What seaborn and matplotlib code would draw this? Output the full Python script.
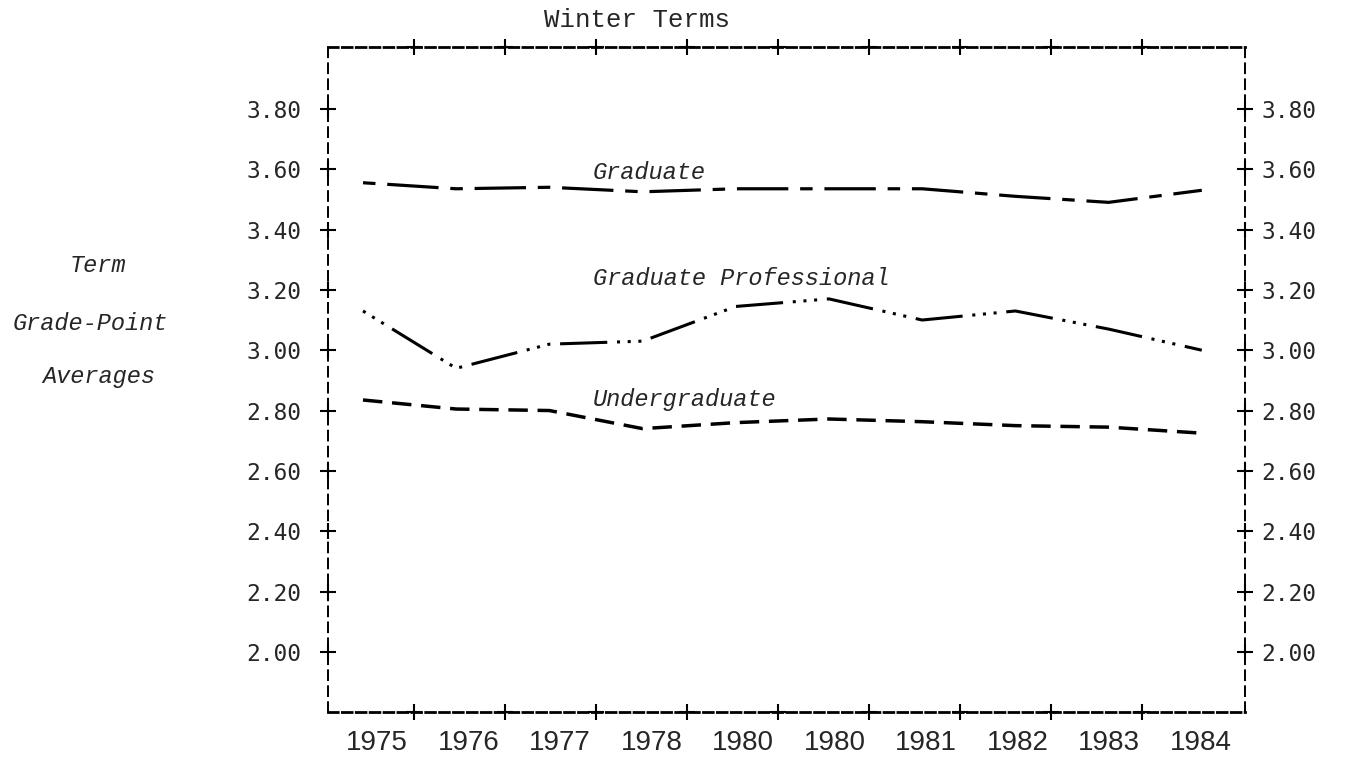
import matplotlib
matplotlib.use('Agg')
import matplotlib.pyplot as plt
from matplotlib import font_manager
import numpy as np
import pandas as pd
import seaborn as sns

# data
years = ['1975', '1976', '1977', '1978', '1980', '1980', '1981', '1982', '1983', '1984']
graduate = [3.555, 3.535, 3.54, 3.525, 3.535, 3.535, 3.535, 3.51, 3.49, 3.53]
grad_prof = [3.13, 2.94, 3.02, 3.03, 3.145, 3.17, 3.10, 3.13, 3.07, 3.00]
undergrad = [2.835, 2.805, 2.80, 2.74, 2.76, 2.772, 2.763, 2.75, 2.745, 2.725]
series_names = ['Graduate', 'Graduate Professional', 'Undergraduate']
yticks = [2.00, 2.20, 2.40, 2.60, 2.80, 3.00, 3.20, 3.40, 3.60, 3.80]

df = pd.DataFrame({'idx': np.arange(len(years)),
                   'Graduate': graduate,
                   'Graduate Professional': grad_prof,
                   'Undergraduate': undergrad})
df = df.melt(id_vars='idx', var_name='group', value_name='gpa')

sns.set_style('white')
plt.rcParams['lines.scale_dashes'] = False

installed = {f.name for f in font_manager.fontManager.ttflist}
mono = 'Liberation Mono' if 'Liberation Mono' in installed else 'DejaVu Sans Mono'
num_font = 'DejaVu Sans Mono'
year_font = 'Liberation Sans Narrow' if 'Liberation Sans Narrow' in installed else 'Liberation Sans'

fig = plt.figure(figsize=(13.47, 7.6), dpi=100)
ax = fig.add_axes([0.2435, 0.0632, 0.6808, 0.875])

# dash patterns in points
styles = {
    'Graduate': dict(lw=2.3, ls=(0, (9, 8.5, 37, 8.5))),
    'Graduate Professional': dict(lw=2.2, ls=(0, (2.2, 5.5, 2.2, 5.5, 2.2, 7, 34, 7))),
    'Undergraduate': dict(lw=2.5, ls=(0, (14, 7))),
}
for name in series_names:
    sub = df[df['group'] == name]
    sns.lineplot(data=sub, x='idx', y='gpa', ax=ax, color='black',
                 linewidth=styles[name]['lw'], linestyle=styles[name]['ls'],
                 dash_capstyle='butt', sort=False)

xlo, xhi = -0.3755, 9.464
ax.set_xlim(xlo, xhi)
ax.set_ylim(1.801, 4.005)

# series labels
lab_font = dict(family=mono, style='italic', fontsize=17)
ax.text(2.468, 3.588, 'Graduate', ha='left', va='center', **lab_font)
ax.text(2.468, 3.236, 'Graduate Professional', ha='left', va='center', **lab_font)
ax.text(2.468, 2.835, 'Undergraduate', ha='left', va='center', **lab_font)

# y ticks, left side
ax.set_yticks(yticks)
ax.set_yticklabels(['%.2f' % v for v in yticks], family=num_font, fontsize=16.5)
ax.tick_params(axis='y', length=0, pad=19, labelleft=True, labelright=False)

# year labels along the bottom, plus marks between them
span = xhi - xlo
lab_pos = [xlo + (0.0534 + 0.0998 * k) * span for k in range(len(years))]
plus_pos = [xlo + (0.0938 + 0.0992 * k) * span for k in range(len(years) - 1)]
ax.set_xticks(lab_pos)
ax.set_xticklabels(years, family=year_font, fontsize=20)
ax.tick_params(axis='x', length=0, pad=13)
ax.set_xlabel('')
ax.set_ylabel('')

# right-side labels
sec = ax.secondary_yaxis('right')
sec.set_yticks(yticks)
sec.set_yticklabels(['%.2f' % v for v in yticks], family=num_font, fontsize=16.5)
sec.tick_params(length=0, pad=12)
sec.spines['right'].set_visible(False)

# plus signs on the frame
pk = dict(marker='+', ms=11, mew=1.5, ls='none', color='black', clip_on=False)
ax.plot(np.zeros(len(yticks)), yticks, transform=ax.get_yaxis_transform(), **pk)
ax.plot(np.ones(len(yticks)), yticks, transform=ax.get_yaxis_transform(), **pk)
ax.plot(plus_pos, np.zeros(len(plus_pos)), transform=ax.get_xaxis_transform(), **pk)
ax.plot(plus_pos, np.ones(len(plus_pos)), transform=ax.get_xaxis_transform(), **pk)

# dashed typewriter frame
for side in ['left', 'right']:
    ax.spines[side].set_linestyle((0, (7, 4.5)))
    ax.spines[side].set_linewidth(1.4)
for side in ['top', 'bottom']:
    ax.spines[side].set_linestyle((0, (7, 3)))
    ax.spines[side].set_linewidth(2)
for s in ax.spines.values():
    s.set_color('black')
    s.set_visible(True)

fig.text(0.473, 0.974, 'Winter Terms', ha='center', va='center', family=mono, fontsize=18.5)
fig.text(0.073, 0.651, 'Term', ha='center', va='center', **lab_font)
fig.text(0.067, 0.575, 'Grade-Point', ha='center', va='center', **lab_font)
fig.text(0.073, 0.504, 'Averages', ha='center', va='center', **lab_font)

fig.savefig('out.png', dpi=100)
